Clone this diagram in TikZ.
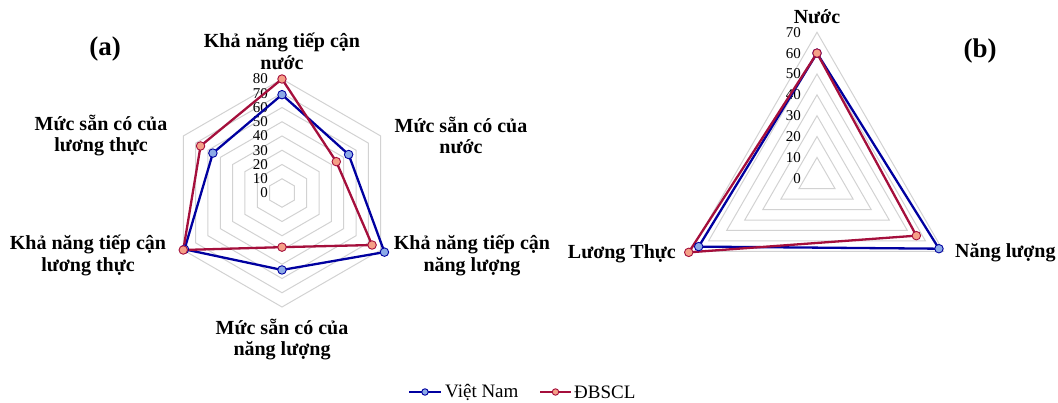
\documentclass[tikz,border=0pt]{standalone}
\usepackage{fontspec}
\setmainfont{Liberation Serif}
\usetikzlibrary{calc}
\definecolor{vnblue}{RGB}{0,0,160}
\definecolor{vnfill}{RGB}{140,170,230}
\definecolor{dbred}{RGB}{165,15,60}
\definecolor{dbfill}{RGB}{245,160,135}
\definecolor{gridgray}{RGB}{210,210,210}
\tikzset{
  axlab/.style={font=\fontsize{20}{21.5}\selectfont\bfseries, align=center, inner sep=0pt},
  panel/.style={font=\fontsize{27}{27}\selectfont\bfseries, inner sep=0pt},
  ticklab/.style={font=\fontsize{15}{15}\selectfont, anchor=east, inner sep=0pt},
  gridline/.style={draw=gridgray, line width=1pt},
  vnline/.style={draw=vnblue, line width=2.3pt, line join=round},
  dbline/.style={draw=dbred, line width=2.3pt, line join=round},
  vnmark/.style={circle, draw=vnblue, fill=vnfill, line width=0.9pt, minimum size=8.5pt, inner sep=0pt},
  dbmark/.style={circle, draw=dbred, fill=dbfill, line width=0.9pt, minimum size=8.5pt, inner sep=0pt},
  legtext/.style={font=\fontsize{19}{19}\selectfont, anchor=west, inner sep=0pt}
}
\begin{document}
\begin{tikzpicture}[x=1pt,y=1pt]
\useasboundingbox (0,0) rectangle (1058,-403);
% ---------- chart (a) ----------
\coordinate (A) at (282,-193);
\foreach \v in {10,20,...,80}{
  \pgfmathsetmacro{\r}{\v*1.425}
  \draw[gridline] ([shift={(90:\r)}]A) -- ([shift={(30:\r)}]A) -- ([shift={(-30:\r)}]A)
     -- ([shift={(-90:\r)}]A) -- ([shift={(-150:\r)}]A) -- ([shift={(150:\r)}]A) -- cycle;
}
\foreach \v in {0,10,...,80}{
  \pgfmathsetmacro{\r}{\v*1.425}
  \node[ticklab] (ta\v) at ([shift={(-14,\r)}]A) {\v};
}
\foreach \i/\ang/\vv/\vd in {1/90/69/80, 2/30/54/44, 3/-30/83/73, 4/-90/54/38, 5/-150/79/80, 6/150/56/66}{
  \pgfmathsetmacro{\rv}{\vv*1.425}
  \pgfmathsetmacro{\rd}{\vd*1.425}
  \coordinate (av\i) at ([shift={(\ang:\rv)}]A);
  \coordinate (ad\i) at ([shift={(\ang:\rd)}]A);
}
\draw[vnline] (av1) -- (av2) -- (av3) -- (av4) -- (av5) -- (av6) -- cycle;
\draw[dbline] (ad1) -- (ad2) -- (ad3) -- (ad4) -- (ad5) -- (ad6) -- cycle;
\foreach \i in {1,...,6}{ \node[vnmark] (mav\i) at (av\i) {}; }
\foreach \i in {1,...,6}{ \node[dbmark] (mad\i) at (ad\i) {}; }
\node[axlab] (la1) at (282,-51.5) {Khả năng tiếp cận\\nước};
\node[axlab] (la2) at (461,-135.5) {Mức sẵn có của\\nước};
\node[axlab] (la3) at (472,-255.5) {Khả năng tiếp cận\\năng lượng};
\node[axlab] (la4) at (282,-339.5) {Mức sẵn có của\\năng lượng};
\node[axlab] (la5) at (88,-255.5) {Khả năng tiếp cận\\lương thực};
\node[axlab] (la6) at (101,-135.5) {Mức sẵn có của\\lương thực};
\node[panel] (pa) at (105,-49) {(a)};
% ---------- chart (b) ----------
\coordinate (B) at (817,-178.3);
\foreach \v in {10,20,...,70}{
  \pgfmathsetmacro{\r}{\v*2.086}
  \draw[gridline] ([shift={(90:\r)}]B) -- ([shift={(-30:\r)}]B) -- ([shift={(-150:\r)}]B) -- cycle;
}
\foreach \v in {0,10,...,70}{
  \pgfmathsetmacro{\r}{\v*2.086}
  \node[ticklab] (tb\v) at ([shift={(-16,\r)}]B) {\v};
}
\foreach \i/\ang/\vv/\vd in {1/90/60/60, 2/-30/67.5/55, 3/-150/65.5/71}{
  \pgfmathsetmacro{\rv}{\vv*2.086}
  \pgfmathsetmacro{\rd}{\vd*2.086}
  \coordinate (bv\i) at ([shift={(\ang:\rv)}]B);
  \coordinate (bd\i) at ([shift={(\ang:\rd)}]B);
}
\draw[vnline] (bv1) -- (bv2) -- (bv3) -- cycle;
\draw[dbline] (bd1) -- (bd2) -- (bd3) -- cycle;
\foreach \i in {1,2,3}{ \node[vnmark] (mbv\i) at (bv\i) {}; }
\foreach \i in {1,2,3}{ \node[dbmark] (mbd\i) at (bd\i) {}; }
\node[axlab] (lb1) at (817,-16.7) {Nước};
\node[axlab, anchor=east] (lb3) at (676,-254) {Lương Thực};
\node[axlab, anchor=west] (lb2) at (955,-253) {Năng lượng};
\node[panel] (pb) at (980,-51) {(b)};
% ---------- legend ----------
\coordinate (l1a) at (409,-392);
\coordinate (l1b) at (441,-392);
\draw[vnline, line width=1.8pt] (l1a) -- (l1b);
\node[vnmark, minimum size=6.5pt] (lm1) at ($(l1a)!0.5!(l1b)$) {};
\node[legtext] (lt1) at (445,-392) {Việt Nam};
\coordinate (l2a) at (540,-392);
\coordinate (l2b) at (571,-392);
\draw[dbline, line width=1.8pt] (l2a) -- (l2b);
\node[dbmark, minimum size=6.5pt] (lm2) at ($(l2a)!0.5!(l2b)$) {};
\node[legtext] (lt2) at (574,-392) {ĐBSCL};
\end{tikzpicture}
\end{document}
